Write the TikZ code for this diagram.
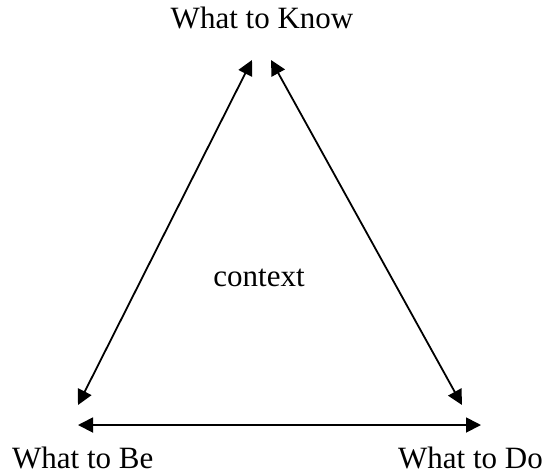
\documentclass[tikz,border=0pt]{standalone}
\usepackage{fontspec}
\setmainfont{Liberation Serif}
\usetikzlibrary{arrows.meta}
\begin{document}
\begin{tikzpicture}[x=1pt,y=-1pt,
  lbl/.style={font=\fontsize{31}{36}\selectfont, inner sep=0pt, text depth=0pt},
  conn/.style={line width=1.8pt, {Triangle[length=15pt,width=15pt]}-{Triangle[length=15pt,width=15pt]}}]
\useasboundingbox (0,0) rectangle (548,475);
\node[lbl, anchor=base] (know) at (262,28) {What to Know};
\node[lbl, anchor=base west] (be) at (12,468) {What to Be};
\node[lbl, anchor=base east] (do) at (543,468) {What to Do};
\node[lbl, anchor=base] (ctx) at (259,286) {context};
\coordinate (kl) at (252,60);
\coordinate (kr) at (271,60);
\coordinate (bl) at (78,405);
\coordinate (dr) at (462,405);
\coordinate (bh) at (78,425);
\coordinate (dh) at (481,425);
\draw[conn] (kl) -- (bl);
\draw[conn] (kr) -- (dr);
\draw[conn] (bh) -- (dh);
\end{tikzpicture}
\end{document}
